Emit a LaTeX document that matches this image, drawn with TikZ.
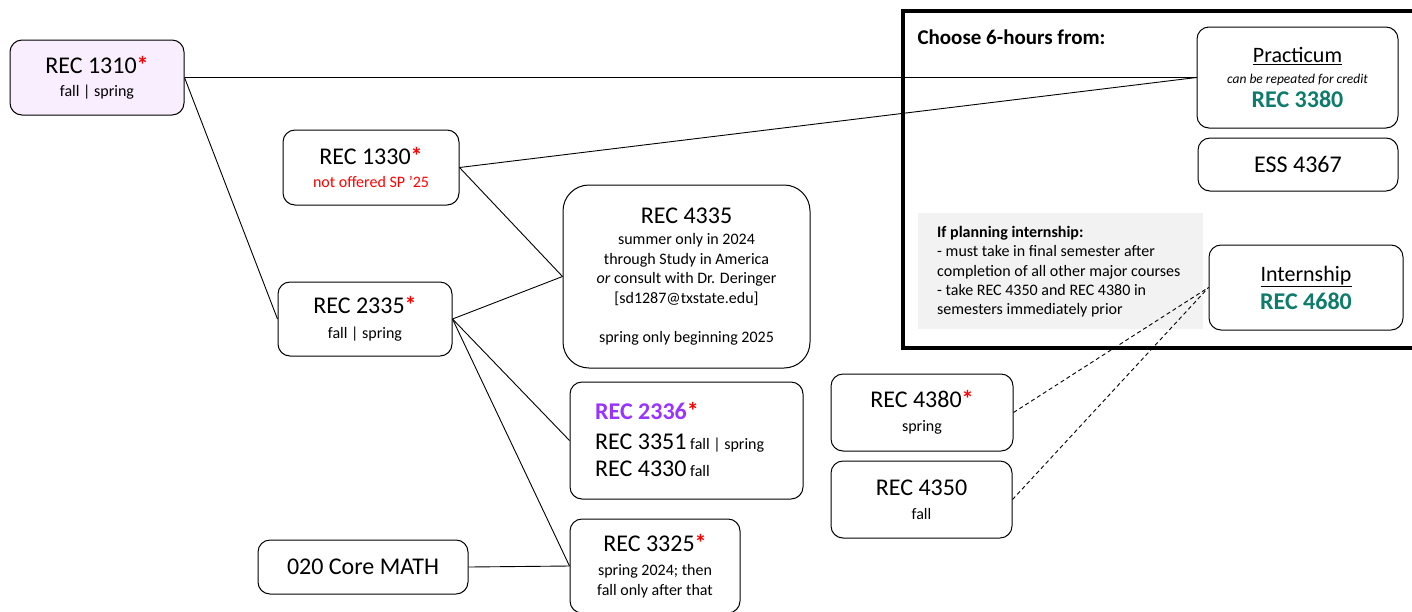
\documentclass[tikz,border=0pt]{standalone}
\usepackage{fontspec}
\setmainfont{Carlito}
\usepackage{xcolor}
\definecolor{tealc}{RGB}{14,124,107}
\definecolor{purpc}{RGB}{153,51,255}
\definecolor{lav}{RGB}{249,238,253}
\definecolor{notegray}{RGB}{242,242,242}
\newcommand{\Lg}{\fontsize{24}{28}\selectfont}
\newcommand{\Md}{\fontsize{22}{26}\selectfont}
\newcommand{\redast}{\textcolor{red}{\textbf{*}}}
\tikzset{
  course/.style={draw=black, line width=1pt, rounded corners=12pt, inner sep=0pt, align=center,
     font=\fontsize{16}{20}\selectfont},
  link/.style={line width=0.9pt},
  dlink/.style={line width=0.9pt, dash pattern=on 4pt off 3pt},
}
\begin{document}
\begin{tikzpicture}[x=1pt,y=-1pt]
\useasboundingbox (0,0) rectangle (1412,611);
\clip (0,0) rectangle (1412,611);
% big choose box
\draw[line width=4pt] (903,11) rectangle (1430,348);
\node[anchor=west, font=\fontsize{21}{25}\selectfont\bfseries] (choose) at (914,37) {Choose 6-hours from:};
% note
\node[fill=notegray, minimum width=285pt, minimum height=116pt, inner sep=0pt] (notebg) at (1060.5,271) {};
\node[anchor=north west, align=left, inner sep=0pt, font=\fontsize{16}{19.3}\selectfont] (note) at (937,226)
  {\textbf{If planning internship:}\\- must take in final semester after\\completion of all other major courses\\- take REC 4350 and REC 4380 in\\semesters immediately prior};

% course nodes
\node[course, fill=lav, minimum width=174pt, minimum height=75pt] (r1310) at (97,77.5)
  {{\Lg REC 1310\redast}\\[3pt]fall | spring};
\node[course, minimum width=176pt, minimum height=75pt] (r1330) at (371,167.5)
  {{\Lg REC 1330\redast}\\[3pt]\textcolor{red}{not offered SP ’25}};
\node[course, minimum width=174pt, minimum height=74pt] (r2335) at (365,319)
  {{\Lg REC 2335\redast}\\[5pt]fall | spring};
\node[course, rounded corners=26pt, minimum width=247pt, minimum height=183pt, font=\fontsize{16}{19.5}\selectfont] (r4335) at (686.5,276.5)
  {{\Lg REC 4335}\\[2pt]summer only in 2024\\through Study in America\\\textit{or} consult with Dr. Deringer\\{[}sd1287@txstate.edu{]}\\[19.5pt]spring only beginning 2025};
\node[course, minimum width=233pt, minimum height=117pt] (r2336) at (686.5,440.5) {};
\node[anchor=north west, align=left, inner sep=0pt, font=\fontsize{16}{28}\selectfont] (r2336t) at (595,402)
  {{\Lg\bfseries\textcolor{purpc}{REC 2336}\redast}\\[2pt]{\Lg REC 3351} fall | spring\\[-1pt]{\Lg REC 4330} fall};
\node[course, minimum width=170pt, minimum height=94pt, font=\fontsize{16}{20}\selectfont] (r3325) at (655,566)
  {{\Lg REC 3325\redast}\\[4pt]spring 2024; then\\fall only after that};
\node[course, minimum width=210pt, minimum height=54pt] (math) at (363,567)
  {\Lg 020 Core MATH};
\node[course, minimum width=182pt, minimum height=77pt] (r4380) at (922,412.5)
  {{\Lg REC 4380\redast}\\[4pt]spring};
\node[course, minimum width=181pt, minimum height=77pt] (r4350) at (921.5,499.5)
  {{\Lg REC 4350}\\[4pt]fall};
\node[course, minimum width=201pt, minimum height=101pt] (r3380) at (1297.5,77.5)
  {{\Md\underline{Practicum}}\\[1pt]{\fontsize{13.5}{16}\selectfont\itshape can be repeated for credit}\\[4pt]{\Lg\bfseries\textcolor{tealc}{REC 3380}}};
\node[course, minimum width=200pt, minimum height=53pt] (ess) at (1298,164.5)
  {\Lg ESS 4367};
\node[course, minimum width=194pt, minimum height=85pt] (r4680) at (1306,287.5)
  {{\Md\underline{Internship}}\\[5pt]{\Lg\bfseries\textcolor{tealc}{REC 4680}}};

% connectors
\draw[link] (r1310.east) -- (r3380.west);
\draw[link] (r1310.east) -- (r2335.west);
\draw[link] (r1330.east) -- (r3380.west);
\draw[link] (r1330.east) -- (r4335.west);
\draw[link] (r2335.east) -- (r4335.west);
\draw[link] (r2335.east) -- (r2336.west);
\draw[link] (r2335.east) -- (r3325.west);
\draw[link] (math.east) -- (r3325.west);
\draw[dlink] (r4380.east) -- (r4680.west);
\draw[dlink] (r4350.east) -- (r4680.west);
\end{tikzpicture}
\end{document}
